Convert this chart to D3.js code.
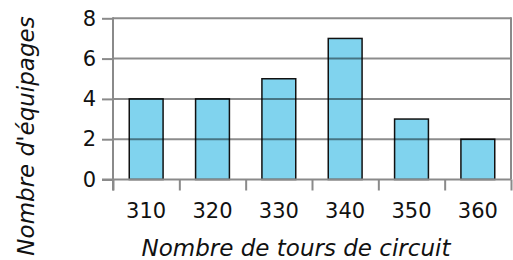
<!DOCTYPE html>
<html>
<head>
<meta charset="utf-8">
<script src="https://cdn.jsdelivr.net/npm/d3@7"></script>
<style>
  body { margin: 0; background: #fff; }
  text { font-family: "DejaVu Sans", sans-serif; fill: #111; }
</style>
</head>
<body>
<script>
var categories = ["310", "320", "330", "340", "350", "360"];
var counts = [4, 4, 5, 7, 3, 2];
var yTicks = [0, 2, 4, 6, 8];

var width = 513, height = 260;
var plotLeft = 113, plotRight = 511, plotTop = 18.3, plotBottom = 179.5;

var svg = d3.select('body').append('svg')
            .attr('width', width)
            .attr('height', height);

var x = d3.scaleBand()
          .domain(categories)
          .range([plotLeft, plotRight])
          .paddingInner(0.49)
          .paddingOuter(0.245);
var xEdge = d3.scaleLinear()
              .domain([0, categories.length])
              .range([plotLeft, plotRight]);
var y = d3.scaleLinear()
          .domain([0, 8])
          .range([plotBottom, plotTop]);

// bars
svg.append('g').selectAll('rect')
   .data(counts)
   .enter().append('rect')
   .attr('x', function(d, i) { return x(categories[i]); })
   .attr('y', function(d) { return y(d); })
   .attr('width', x.bandwidth())
   .attr('height', function(d) { return y(0) - y(d); })
   .attr('fill', '#80d3ee')
   .attr('stroke', '#111')
   .attr('stroke-width', 1.5);

// gridlines over the bars
svg.append('g').selectAll('line')
   .data(yTicks.slice(1))
   .enter().append('line')
   .attr('x1', plotLeft).attr('x2', plotRight)
   .attr('y1', function(d) { return y(d); })
   .attr('y2', function(d) { return y(d); })
   .attr('stroke', 'rgba(0,0,0,0.45)')
   .attr('stroke-width', 2);

// right frame
svg.append('line')
   .attr('x1', plotRight).attr('x2', plotRight)
   .attr('y1', plotTop - 1).attr('y2', plotBottom)
   .attr('stroke', '#8a8a8a')
   .attr('stroke-width', 2);

var yAxis = d3.axisLeft(y).tickValues(yTicks).tickSize(11).tickPadding(6);
var gy = svg.append('g').attr('transform', 'translate(' + plotLeft + ',0)').call(yAxis);
gy.select('.domain').attr('stroke', '#8a8a8a').attr('stroke-width', 2)
  .attr('d', 'M0,' + (plotTop - 1) + 'V' + (plotBottom + 11));
gy.selectAll('.tick line').attr('stroke', '#8a8a8a').attr('stroke-width', 2);
gy.selectAll('text').style('font-size', '21px').attr('fill', '#111');

var xTicks = d3.axisBottom(xEdge).tickValues(d3.range(categories.length + 1))
               .tickSize(11).tickFormat('');
var gx = svg.append('g').attr('transform', 'translate(0,' + plotBottom + ')').call(xTicks);
gx.select('.domain').attr('stroke', '#8a8a8a').attr('stroke-width', 2)
  .attr('d', 'M' + (plotLeft - 11) + ',0H' + plotRight);
gx.selectAll('.tick line').attr('stroke', '#8a8a8a').attr('stroke-width', 2);

var xLabels = d3.axisBottom(x).tickSize(0).tickPadding(24);
var gl = svg.append('g').attr('transform', 'translate(0,' + plotBottom + ')').call(xLabels);
gl.select('.domain').remove();
gl.selectAll('text').style('font-size', '21px').attr('fill', '#111');

svg.append('text')
   .attr('x', 296).attr('y', 256)
   .attr('text-anchor', 'middle')
   .style('font-size', '23px').style('font-style', 'italic')
   .text('Nombre de tours de circuit');

svg.append('text')
   .attr('transform', 'translate(34,136) rotate(-90)')
   .attr('text-anchor', 'middle')
   .style('font-size', '23px').style('font-style', 'italic')
   .text("Nombre d'équipages");
</script>
</body>
</html>
